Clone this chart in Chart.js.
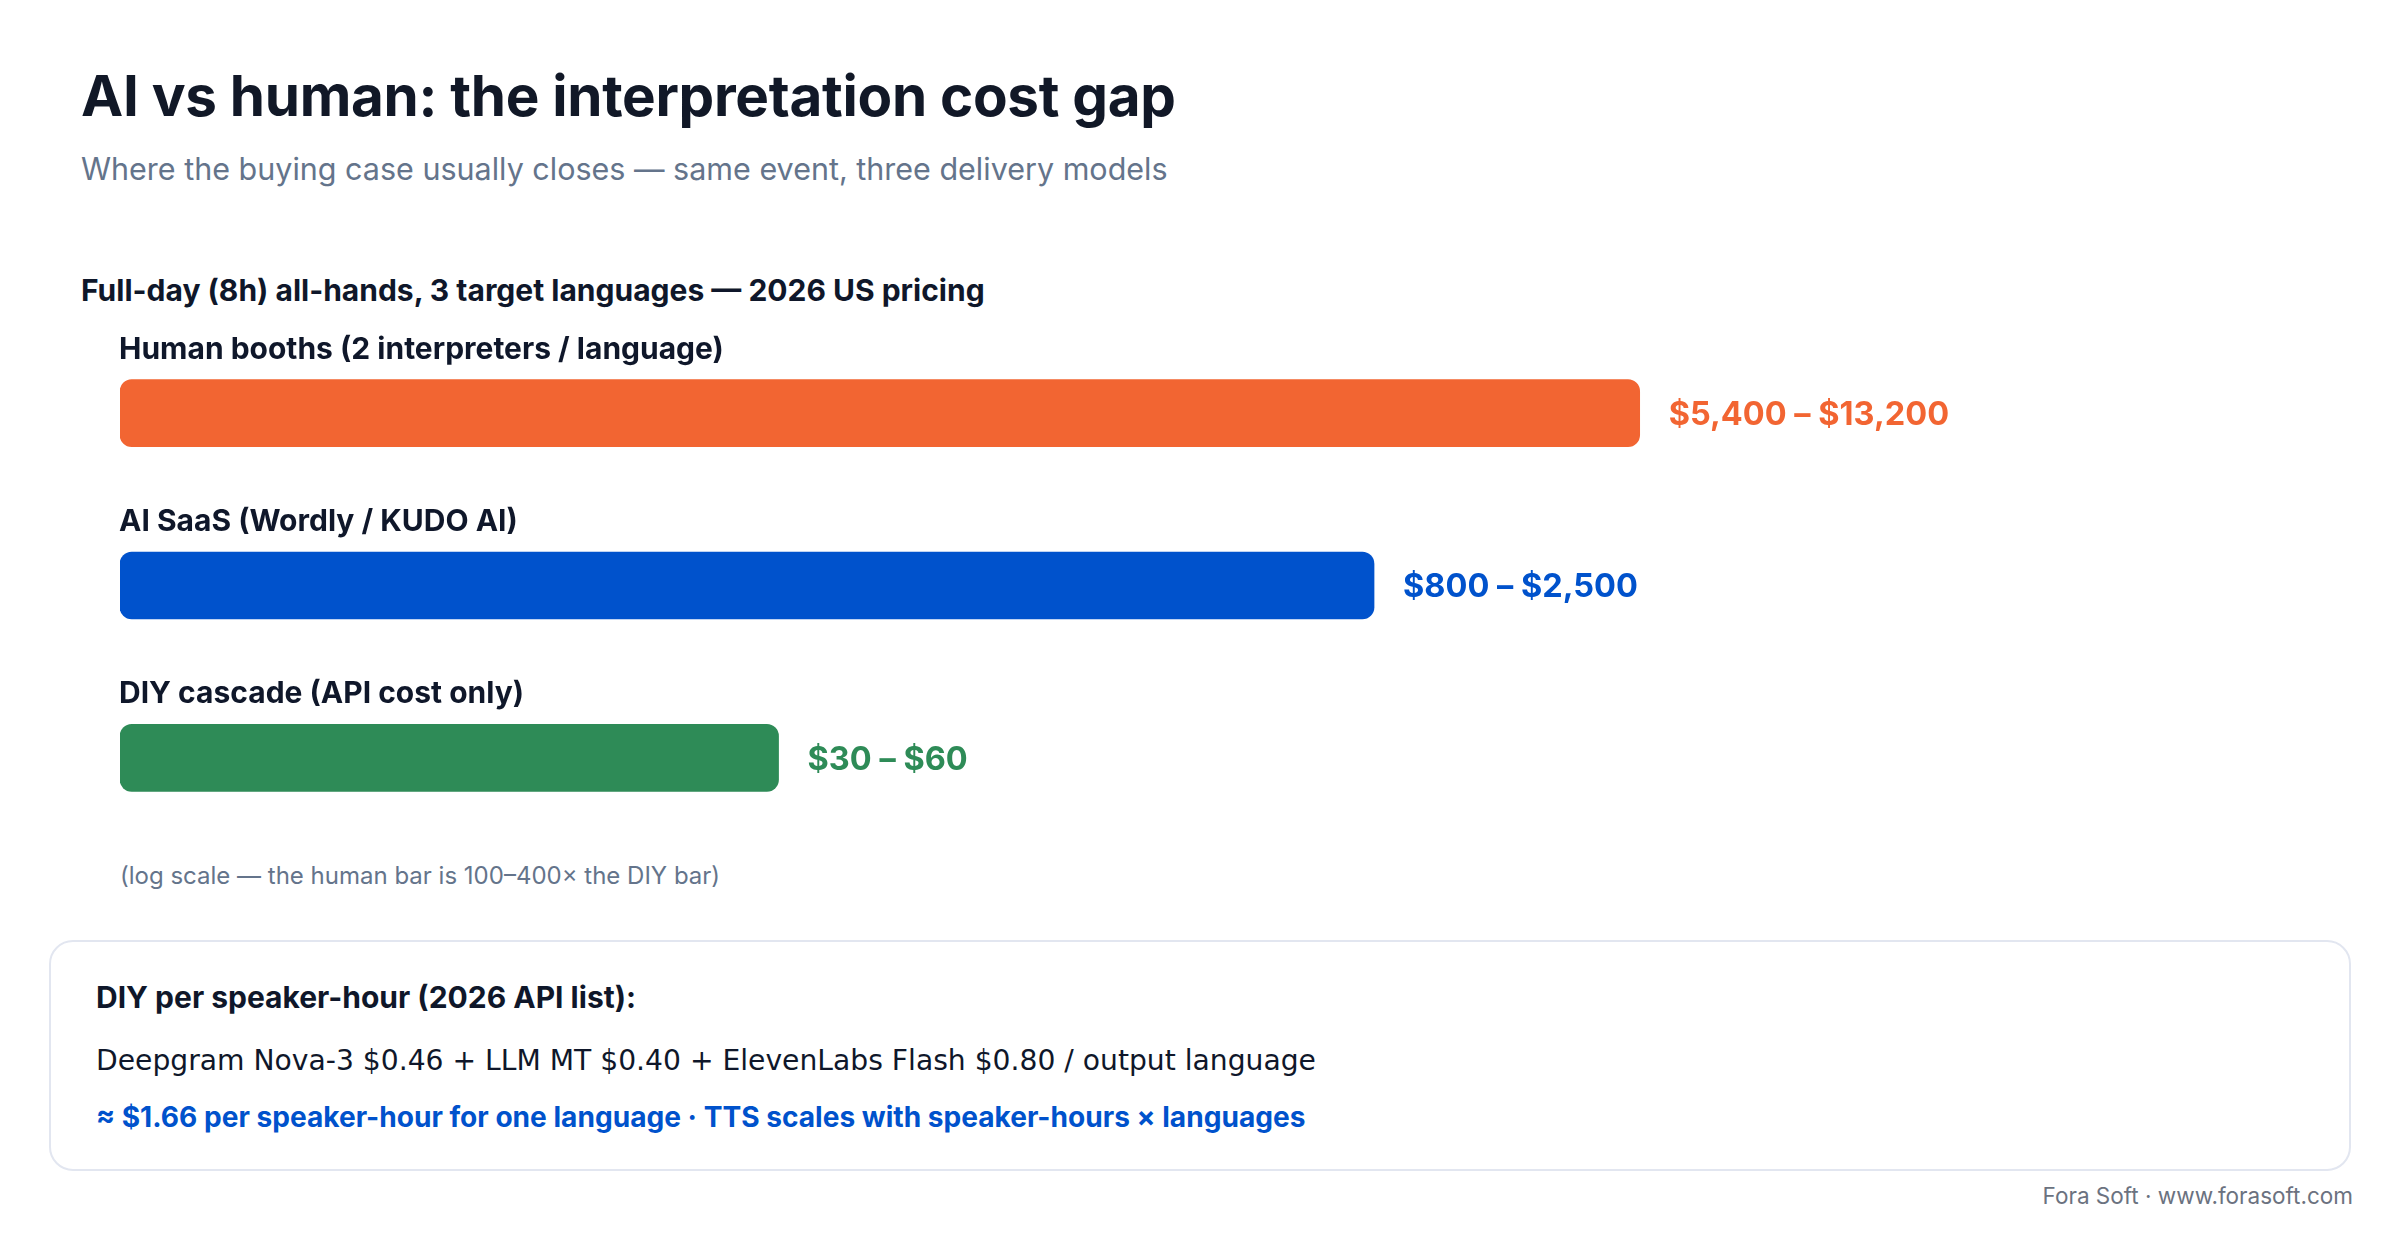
<!DOCTYPE html>
<html>
<head>
<meta charset="utf-8">
<script src="https://cdn.jsdelivr.net/npm/chart.js@4.4.1/dist/chart.umd.min.js"></script>
<style>
  html, body { margin:0; padding:0; background:#ffffff; }
  body { width:2400px; height:1240px; position:relative; overflow:hidden; font-family:Inter, "Noto Sans", sans-serif; }
  .t { position:absolute; white-space:nowrap; }
  #title { left:81px; top:65px; height:62px; line-height:62px; font-size:56.6px; font-weight:700; color:#111827; letter-spacing:-0.3px; }
  #subtitle { left:81px; top:151px; height:36px; line-height:36px; font-size:30.5px; color:#64748b; }
  #section { left:81px; top:272px; height:36px; line-height:36px; font-size:30px; font-weight:700; color:#0f172a; }
  #note { left:120px; top:862px; height:28px; line-height:28px; font-size:24px; color:#64748b; }
  #box { position:absolute; left:49px; top:940px; width:2298px; height:227px; border:2px solid #e2e6f0; border-radius:24px; background:#fff; }
  #bh { left:96px; top:979px; height:36px; line-height:36px; font-size:30px; font-weight:700; color:#0f172a; }
  #bl { left:96px; top:1043px; height:36px; line-height:36px; font-size:28.2px; color:#0f172a; font-family:"DejaVu Sans", sans-serif; }
  #bb { left:96px; top:1099px; height:36px; line-height:36px; font-size:28.1px; font-weight:700; color:#0052cc; }
  #footer { right:47px; top:1182px; height:28px; line-height:28px; font-size:22.5px; color:#6b7280; }
  #wrap { position:absolute; left:0; top:327px; width:2400px; height:517px; }
</style>
</head>
<body>
<div id="title" class="t">AI vs human: the interpretation cost gap</div>
<div id="subtitle" class="t">Where the buying case usually closes — same event, three delivery models</div>
<div id="section" class="t">Full-day (8h) all-hands, 3 target languages — 2026 US pricing</div>
<div id="wrap"><canvas id="c" width="2400" height="517"></canvas></div>
<div id="note" class="t">(log scale — the human bar is 100–400× the DIY bar)</div>
<div id="box"></div>
<div id="bh" class="t">DIY per speaker-hour (2026 API list):</div>
<div id="bl" class="t">Deepgram Nova-3 $0.46 + LLM MT $0.40 + ElevenLabs Flash $0.80 / output language</div>
<div id="bb" class="t">≈ $1.66 per speaker-hour for one language · TTS scales with speaker-hours × languages</div>
<div id="footer" class="t">Fora Soft · www.forasoft.com</div>
<script>
const categories = ['Human booths (2 interpreters / language)', 'AI SaaS (Wordly / KUDO AI)', 'DIY cascade (API cost only)'];
const lowValues = [5400, 800, 30];
const highValues = [13200, 2500, 60];
const barColors = ['#f26532', '#0052cc', '#2e8b57'];
const axisMin = 0.97;
const axisMax = 100000;

const fmt = v => '$' + v.toLocaleString('en-US');
const valueLabels = lowValues.map((lo, i) => fmt(lo) + ' \u2013 ' + fmt(highValues[i]));

const labelPlugin = {
  id: 'barLabels',
  afterDatasetsDraw(chart) {
    const ctx = chart.ctx;
    const meta = chart.getDatasetMeta(0);
    meta.data.forEach((bar, i) => {
      const p = bar.getProps(['x', 'y', 'base', 'height'], true);
      ctx.save();
      ctx.font = '700 30px Inter, "Noto Sans", sans-serif';
      ctx.fillStyle = '#0f172a';
      ctx.textAlign = 'left';
      ctx.textBaseline = 'alphabetic';
      ctx.fillText(categories[i], p.base - 1, p.y - p.height / 2 - 21);
      ctx.font = '700 32.5px Inter, "Noto Sans", sans-serif';
      ctx.fillStyle = barColors[i];
      ctx.textBaseline = 'middle';
      ctx.fillText(valueLabels[i], p.x + 29, p.y + 2);
      ctx.restore();
    });
  }
};

new Chart(document.getElementById('c'), {
  type: 'bar',
  data: {
    labels: categories,
    datasets: [{
      data: highValues,
      backgroundColor: barColors,
      borderRadius: 12,
      borderSkipped: false,
      barThickness: 67
    }]
  },
  options: {
    indexAxis: 'y',
    responsive: false,
    animation: false,
    layout: { padding: { left: 120, right: 437, top: 0, bottom: 0 } },
    plugins: { legend: { display: false }, tooltip: { enabled: false } },
    scales: {
      x: { type: 'logarithmic', min: axisMin, max: axisMax, display: false },
      y: { type: 'category', display: false, offset: true }
    }
  },
  plugins: [labelPlugin]
});
</script>
</body>
</html>
